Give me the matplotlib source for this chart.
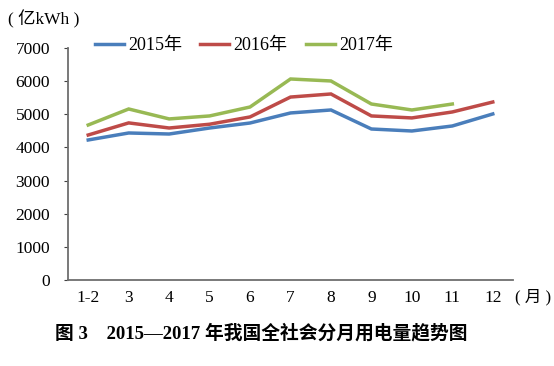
import matplotlib
matplotlib.use("Agg")
import matplotlib.pyplot as plt

months = ["1-2", "3", "4", "5", "6", "7", "8", "9", "10", "11", "12"]
y2015 = [4225, 4436, 4405, 4586, 4737, 5040, 5130, 4556, 4496, 4647, 5010]
y2016 = [4375, 4740, 4586, 4700, 4920, 5520, 5613, 4950, 4890, 5070, 5370]
y2017 = [4677, 5160, 4860, 4950, 5220, 6065, 6005, 5310, 5130, 5310]
series_names = ["2015年", "2016年", "2017年"]
colors = ["#4a7ebb", "#be4b48", "#98b954"]
yticks = [0, 1000, 2000, 3000, 4000, 5000, 6000, 7000]

FAM = ["Liberation Serif", "Noto Sans CJK SC"]
plt.rcParams["font.family"] = FAM

fig = plt.figure(figsize=(5.54, 3.66), dpi=100)
W, H = 554, 366
ax = fig.add_axes([68 / W, 1 - 280 / H, (513 - 68) / W, (280 - 48) / H])

x = list(range(len(months)))
for vals, name, c in zip([y2015, y2016, y2017], series_names, colors):
    ax.plot(x[:len(vals)], vals, color=c, lw=2.5, label=name, solid_joinstyle="miter")

ax.set_xlim(-0.5, len(months) - 0.5)
ax.set_ylim(0, 7000)
ax.set_yticks(yticks)
ax.set_yticklabels([str(v) for v in yticks], fontsize=12.5)
ax.set_xticks(x)
ax.set_xticklabels(months, fontsize=12.5)
ax.tick_params(axis="x", length=0, pad=7)
ax.tick_params(axis="y", length=3, direction="out", color="#404040", pad=10)
for s in ["top", "right"]:
    ax.spines[s].set_visible(False)
for s in ["left", "bottom"]:
    ax.spines[s].set_color("#6e6e6e")
    ax.spines[s].set_linewidth(1.3)

leg = ax.legend(loc="center left", bbox_to_anchor=(0.06, 1.01), ncol=3, frameon=False,
                fontsize=13, handlelength=1.6, handletextpad=0.25, columnspacing=1.0,
                borderaxespad=0, borderpad=0)

fig.text(8 / W, 1 - 19 / H, "( 亿kWh )", fontsize=12.5, ha="left", va="center", family=FAM)
fig.text(515 / W, 1 - 297 / H, "( 月 )", fontsize=12, ha="left", va="center", family=FAM)
fig.text(261 / W, 1 - 333 / H, "图 3　2015—2017 年我国全社会分月用电量趋势图",
         fontsize=13.5, fontweight="bold", ha="center", va="center", family=FAM)

fig.savefig("out.png", dpi=100, facecolor="white")
